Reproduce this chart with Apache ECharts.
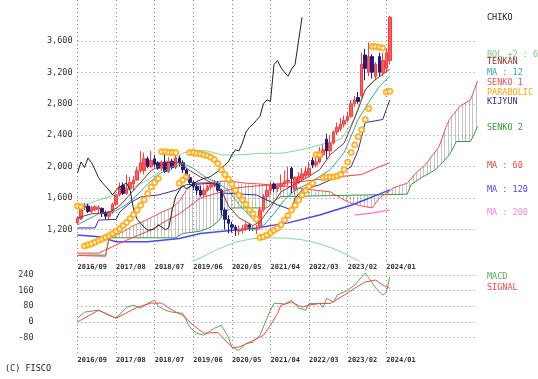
<!DOCTYPE html>
<html><head><meta charset="utf-8">
<script src="https://cdn.jsdelivr.net/npm/echarts/dist/echarts.min.js"></script>
<style>html,body{margin:0;padding:0;background:#fff}#c{width:538px;height:379px}</style>
</head><body><div id="c"></div>
<script>
// ---- categories (monthly, 2016/09 .. 2026/03 incl. 25 periods of forward cloud)
const months = [];
for (let k = 0; k < 115; k++) { const m = (8 + k) % 12 + 1; const y = 2016 + Math.floor((8 + k) / 12); months.push(y + '/' + String(m).padStart(2, '0')); }
const tickLabels = ['2016/09','2017/08','2018/07','2019/06','2020/05','2021/04','2022/03','2023/02','2024/01'];
const priceTicks = [1200,1600,2000,2400,2800,3200,3600];
const macdTicks = [-80,0,80,160,240];

// ---- monthly candles
const opens  = [1290,1340,1480,1500,1430,1450,1460,1470,1420,1370,1420,1520,1640,1760,1660,1720,1780,1830,1950,1950,2100,2000,2100,2050,1980,2060,1940,2070,1990,2110,2050,1960,1860,1800,1750,1700,1640,1700,1740,1770,1790,1700,1450,1330,1260,1230,1180,1190,1210,1260,1210,1200,1220,1450,1620,1700,1780,1720,1745,1780,1810,1980,1700,1800,1850,1880,1900,2080,2020,2060,2150,2350,2200,2300,2440,2480,2540,2590,2640,2800,2880,2900,3420,3200,3400,3150,3400,3200,3250,3350];
const closes = [1340,1480,1500,1430,1480,1490,1480,1400,1370,1420,1520,1640,1750,1660,1720,1800,1830,1950,2050,2100,2000,2080,2030,1980,2060,1940,2070,1990,2110,2050,1960,1860,1800,1750,1700,1640,1700,1740,1770,1790,1700,1450,1330,1280,1230,1195,1200,1210,1260,1230,1210,1220,1450,1620,1700,1760,1720,1745,1780,1810,1830,1850,1860,1875,1910,1940,1980,2020,2060,2150,2215,2200,2300,2440,2500,2540,2590,2640,2800,2850,2830,3300,3250,3400,3200,3300,3200,3350,3450,3900];
const lows   = [1270,1320,1450,1410,1410,1430,1400,1360,1330,1320,1400,1500,1620,1640,1640,1700,1700,1820,1920,1900,1980,1980,1990,1960,1950,1920,1920,1960,1970,2000,1920,1830,1770,1700,1640,1620,1620,1680,1710,1740,1680,1380,1200,1150,1160,1120,1130,1150,1180,1180,1180,1140,1200,1420,1560,1640,1680,1680,1700,1740,1760,1660,1640,1780,1820,1850,1880,1980,1990,2040,2120,2100,2150,2280,2400,2450,2500,2560,2620,2760,2800,2880,3100,3150,3120,3100,3150,3150,3200,3300];
const highs  = [1360,1500,1540,1530,1500,1510,1510,1480,1440,1440,1540,1660,1800,1800,1900,1870,1880,2000,2200,2180,2130,2200,2150,2070,2080,2180,2120,2100,2150,2140,2080,1980,1900,1820,1790,1760,1730,1770,1800,1830,1810,1720,1480,1380,1300,1260,1250,1260,1290,1280,1240,1260,1480,1650,1780,1810,1800,1790,1900,1950,2000,2000,1880,1930,1980,2000,2060,2120,2150,2250,2280,2420,2400,2460,2560,2620,2650,2700,2850,2900,2950,3450,3500,3580,3430,3330,3450,3450,3500,3920];

// ---- indicator lines, [period index, value]
const chiko = [1920,2060,1990,2110,2050,1960,1860,1800,1750,1700,1640,1700,1740,1770,1790,1700,1450,1330,1280,1230,1195,1195,1210,1260,1230,1200,1220,1450,1620,1700,1760,1720,1745,1780,1810,1830,1850,1860,1875,1910,1940,1980,2020,2060,2150,2215,2200,2300,2440,2500,2540,2590,2640,2800,2850,2830,3300,3350,3260,3200,3150,3240,3300,3600,3900];
const bolUpper = [[0,1470],[5,1560],[10,1630],[15,1720],[20,1830],[24,1960],[27,2080],[30,2170],[33,2210],[37,2200],[41,2150],[46,2150],[52,2170],[58,2170],[62,2200],[66,2240],[71,2300],[75,2350],[77,2470],[79,2620],[81,2880],[83,3040],[86,3150],[89,3380]];
const bolLower = [[28,700],[33,800],[36,860],[40,950],[45,1040],[50,1085],[55,1095],[60,1090],[64,1070],[69,1020],[74,940],[78,850],[81,780]];
const tenkan = [[0,1350],[4,1400],[9,1420],[12,1500],[15,1650],[18,1800],[21,1950],[25,2050],[29,2050],[32,1950],[35,1870],[38,1800],[41,1700],[43,1500],[46,1350],[50,1250],[52,1300],[55,1480],[58,1680],[62,1780],[65,1850],[69,1960],[72,2150],[76,2300],[78,2510],[80,2730],[82,2980],[85,3110],[89,3240]];
const ma12 = [[0,1260],[6,1400],[11,1440],[14,1520],[17,1640],[20,1780],[23,1900],[27,2000],[30,2040],[33,1980],[36,1880],[40,1790],[43,1700],[46,1520],[50,1330],[53,1250],[56,1400],[59,1580],[62,1700],[66,1790],[72,1960],[76,2180],[80,2600],[83,2820],[86,3020],[89,3150]];
const kijyun = [[0,1220],[5,1220],[6,1320],[11,1330],[12,1420],[15,1540],[18,1615],[23,1640],[28,1700],[31,1770],[39,1790],[41,1665],[51,1640],[54,1575],[57,1515],[61,1450],[62,1600],[64,1700],[69,1770],[72,1830],[75,1920],[78,2000],[80,2210],[82,2560],[87,2600],[89,2850]];
const senko1 = [[0,870],[8,860],[9,1100],[12,1150],[16,1250],[20,1330],[24,1420],[27,1480],[29,1560],[31,1700],[33,1790],[38,1800],[43,1820],[48,1790],[52,1780],[56,1760],[60,1750],[64,1720],[68,1700],[72,1680],[75,1600],[78,1530],[81,1500],[84,1475],[86,1600],[88,1660],[90,1730],[94,1790],[96,1900],[99,2020],[103,2250],[105,2500],[106,2600],[109,2770],[112,2850],[114,3090]];
const senko2 = [[0,875],[8,875],[9,1095],[28,1095],[30,1150],[35,1180],[38,1230],[40,1300],[42,1420],[44,1475],[54,1475],[56,1560],[58,1620],[94,1650],[95,1770],[98,1860],[102,1960],[104,2050],[106,2150],[108,2320],[112,2320],[113,2410],[114,2510]];
const ma60 = [[0,900],[6,900],[14,1065],[21,1195],[26,1330],[29,1400],[35,1600],[45,1730],[55,1770],[64,1810],[74,1870],[81,1900],[85,1980],[89,2050]];
const ma120 = [[0,1130],[6,1110],[11,1045],[20,1045],[29,1085],[35,1150],[45,1195],[51,1220],[60,1285],[69,1385],[78,1510],[84,1615],[89,1705]];
const ma200 = [[79,1385],[84,1410],[89,1450]];
const parabolic = [[0,1500],[1,1490],[2,990],[3,1005],[4,1020],[5,1040],[6,1060],[7,1080],[8,1100],[9,1120],[10,1150],[11,1180],[12,1210],[13,1250],[14,1290],[15,1340],[16,1390],[17,1450],[18,1510],[19,1580],[20,1660],[21,1740],[22,1800],[23,1850],[24,2190],[25,2190],[26,2180],[27,2180],[28,2180],[29,1790],[30,1830],[31,1870],[32,2180],[33,2180],[34,2170],[35,2160],[36,2150],[37,2140],[38,2120],[39,2090],[40,2040],[41,1960],[42,1900],[43,1840],[44,1780],[45,1700],[46,1640],[47,1580],[48,1520],[49,1450],[50,1400],[51,1330],[52,1100],[53,1110],[54,1130],[55,1160],[56,1190],[57,1220],[58,1260],[59,1320],[60,1380],[61,1450],[62,1510],[63,1575],[64,1640],[65,1700],[66,1750],[67,1790],[68,2150],[69,2150],[70,1860],[71,1870],[72,1870],[73,1870],[74,1880],[75,1900],[76,1960],[77,2060],[78,2180],[79,2280],[80,2380],[81,2470],[82,2600],[83,2740],[84,3530],[85,3530],[86,3520],[87,3510],[88,2950],[89,2960]];
const macd = [[0,19],[2,50],[5,58],[6,60],[9,34],[11,19],[14,75],[16,86],[18,70],[20,96],[22,111],[23,80],[25,60],[27,50],[30,44],[32,-27],[34,-58],[36,-68],[39,-32],[41,-17],[43,-78],[44,-129],[46,-145],[48,-110],[50,-104],[52,-68],[54,20],[55,60],[56,95],[58,95],[59,90],[61,111],[63,70],[65,60],[66,94],[69,94],[70,75],[71,120],[73,101],[74,137],[77,162],[79,188],[82,250],[83,225],[85,173],[87,137],[88,150],[89,230]];
const signal = [[0,0],[6,60],[11,19],[17,75],[21,96],[24,96],[27,60],[30,34],[33,-17],[36,-58],[40,-53],[44,-129],[46,-129],[49,-104],[53,-68],[55,-17],[57,44],[58,86],[61,101],[64,75],[66,86],[69,94],[72,94],[76,137],[79,172],[82,204],[85,214],[87,188],[89,172]];

// ---- rendering
const FONT = '"DejaVu Sans Mono", monospace';
const candles = opens.map((o, i) => [o, closes[i], lows[i], highs[i]]);
const isTick = (i) => tickLabels.indexOf(months[i]) >= 0;

const hatch = document.createElement('canvas');
hatch.width = 7; hatch.height = 4;
(function () { const g = hatch.getContext('2d'); g.fillStyle = '#c4c4c4'; g.fillRect(0, 0, 1, 4); g.fillRect(3, 0, 1, 4); })();

const dotted = { color: '#8a8a8a', type: [1, 3], width: 1 };
function line(name, data, color, z, w) {
  return { name, type: 'line', data, xAxisIndex: 0, yAxisIndex: 0, showSymbol: false, symbol: 'none',
    lineStyle: { color, width: w || 1 }, z: z, animation: false, silent: true };
}

const chart = echarts.init(document.getElementById('c'), null, { renderer: 'canvas' });
const xCommon = {
  type: 'category', data: months, boundaryGap: false,
  axisLine: { show: false }, axisTick: { show: false },
  splitLine: { show: true, interval: (i) => isTick(i), lineStyle: dotted },
  axisLabel: { interval: (i) => isTick(i), align: 'left', fontFamily: FONT, fontSize: 7, fontWeight: 'bold', color: '#333', margin: 3, hideOverlap: false }
};
chart.setOption({
  animation: false,
  backgroundColor: '#fff',
  grid: [
    { left: 77.5, top: 0, width: 400, height: 261, outerBoundsMode: 'none', containLabel: false },
    { left: 77.5, top: 272, width: 400, height: 81.3, outerBoundsMode: 'none', containLabel: false }
  ],
  xAxis: [ Object.assign({ gridIndex: 0 }, xCommon), Object.assign({ gridIndex: 1 }, xCommon) ],
  yAxis: [
    { type: 'value', gridIndex: 0, min: 800, max: 4120, interval: 400, splitLine: { show: false },
      axisLine: { show: false }, axisTick: { show: false },
      axisLabel: { fontFamily: FONT, fontSize: 8.5, color: '#333', margin: 5,
        formatter: (v) => priceTicks.indexOf(v) >= 0 ? v.toLocaleString('en-US') : '' } },
    { type: 'value', gridIndex: 1, min: -160, max: 255, interval: 80, splitLine: { show: false },
      axisLine: { show: false }, axisTick: { show: false },
      axisLabel: { fontFamily: FONT, fontSize: 8.5, color: '#333', margin: 44,
        formatter: (v) => macdTicks.indexOf(v) >= 0 ? String(v) : '' } }
  ],
  series: [
    { type: 'custom', xAxisIndex: 0, yAxisIndex: 0, z: 1, silent: true, data: [[0, 1000]],
      renderItem: function (params, api) {
        const top = senko1.map(p => api.coord(p));
        const bot = senko2.map(p => api.coord(p)).reverse();
        return { type: 'polygon', shape: { points: top.concat(bot) }, style: { fill: { image: hatch, repeat: 'repeat' }, stroke: null } };
      } },
    Object.assign(line('gridlines', [], '#999', 1), {
      markLine: { silent: true, symbol: 'none', label: { show: false }, lineStyle: dotted, animation: false,
        data: priceTicks.map(v => ({ yAxis: v })) } }),
    line('SENKO 2', senko2, '#3a9a3a', 3),
    line('SENKO 1', senko1, '#ff5050', 3),
    line('MA 200', ma200, '#ff88cc', 3, 1.5),
    line('MA 120', ma120, '#4848ff', 3, 1.5),
    line('MA 60', ma60, '#ff4040', 3),
    line('BOL upper', bolUpper, '#7fdc9a', 3),
    line('BOL lower', bolLower, '#7fdc9a', 3),
    { name: 'price', type: 'candlestick', xAxisIndex: 0, yAxisIndex: 0, data: candles, barWidth: 3, clip: false, z: 4, silent: true,
      itemStyle: { color: '#ff5c5c', color0: '#1e1e80', borderColor: '#ff3c3c', borderColor0: '#1e1e80', borderColorDoji: '#1a9a1a', borderWidth: 1 } },
    line('MA 12', ma12, '#33a5a5', 5),
    line('TENKAN', tenkan, '#9a3030', 5),
    line('KIJYUN', kijyun, '#30309a', 5),
    line('CHIKO', chiko.map((v, j) => [j, v]), '#222222', 6),
    { name: 'PARABOLIC', type: 'scatter', xAxisIndex: 0, yAxisIndex: 0, data: parabolic, symbol: 'emptyCircle', symbolSize: 5, z: 7, silent: true,
      itemStyle: { color: '#ffa500', borderColor: '#ffa500', borderWidth: 1.2 } },
    { name: 'MACD', type: 'line', xAxisIndex: 1, yAxisIndex: 1, data: macd, showSymbol: false, symbol: 'none', lineStyle: { color: '#55aa55', width: 1 }, z: 5, silent: true,
      markLine: { silent: true, symbol: 'none', label: { show: false }, lineStyle: dotted, animation: false, data: macdTicks.map(v => ({ yAxis: v })) } },
    { name: 'SIGNAL', type: 'line', xAxisIndex: 1, yAxisIndex: 1, data: signal, showSymbol: false, symbol: 'none', lineStyle: { color: '#ff4444', width: 1 }, z: 5, silent: true }
  ],
  graphic: [
    ['CHIKO', '#222222', 18], ['BOL +2 : 60', '#77cc77', 55], ['TENKAN', '#9a3030', 62], ['MA : 12', '#33a5a5', 73],
    ['SENKO 1', '#ff5050', 83], ['PARABOLIC', '#ffa500', 93], ['KIJYUN', '#30309a', 102], ['SENKO 2', '#3a9a3a', 128],
    ['MA : 60', '#ff4040', 166], ['MA : 120', '#4848ff', 190], ['MA : 200', '#ff88cc', 213],
    ['MACD', '#55aa55', 277], ['SIGNAL', '#ff4444', 288]
  ].map(t => ({ type: 'text', x: 487, y: t[2], silent: true,
      style: { text: t[0], fill: t[1], font: '8.5px ' + FONT, verticalAlign: 'middle' } }))
    .concat([{ type: 'text', x: 5, y: 369, silent: true, style: { text: '(C) FISCO', fill: '#222', font: '8.5px ' + FONT, verticalAlign: 'middle' } }])
});
</script></body></html>
